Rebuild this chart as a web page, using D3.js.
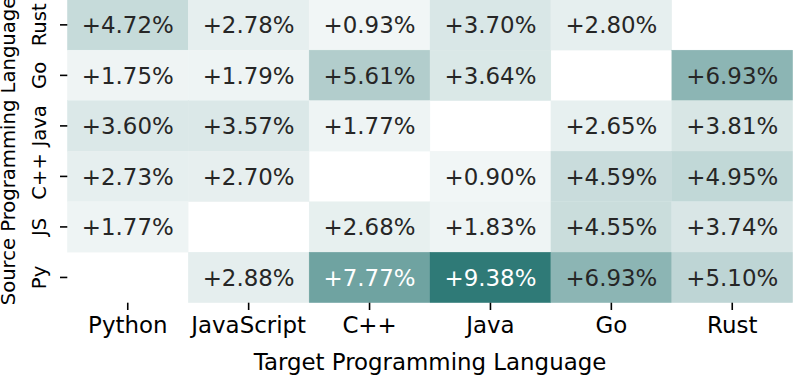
<!DOCTYPE html>
<html>
<head>
<meta charset="utf-8">
<script src="https://cdn.jsdelivr.net/npm/d3@7"></script>
<style>
  body { margin: 0; background: #fff; }
  text { font-family: "DejaVu Sans", sans-serif; }
</style>
</head>
<body>
<script>
//categories
var sources = ["Rust", "Go", "Java", "C++", "JS", "Py"];
var targets = ["Python", "JavaScript", "C++", "Java", "Go", "Rust"];

//one array per source row (null = same language)
var rustRow = [4.72, 2.78, 0.93, 3.70, 2.80, null];
var goRow   = [1.75, 1.79, 5.61, 3.64, null, 6.93];
var javaRow = [3.60, 3.57, 1.77, null, 2.65, 3.81];
var cppRow  = [2.73, 2.70, null, 0.90, 4.59, 4.95];
var jsRow   = [1.77, null, 2.68, 1.83, 4.55, 3.74];
var pyRow   = [null, 2.88, 7.77, 9.38, 6.93, 5.10];

var rows = [rustRow, goRow, javaRow, cppRow, jsRow, pyRow];

var xTitle = "Target Programming Language";
var yTitle = "Source Programming Language";

window.onload = drawHeatmap();

function drawHeatmap(){

    var width = 793,
        height = 382,
        fontSize = 22.9,
        yFontSize = 19.6;

    var svg = d3.select("body")
        .append("svg")
        .attr("width", width)
        .attr("height", height);

    var x = d3.scaleBand()
        .domain(targets)
        .range([67.3, 792.7]);

    var y = d3.scaleBand()
        .domain(sources)
        .range([-0.4, 302.7]);

    //flatten to cells
    var cells = [];
    rows.forEach(function(r, i){
        r.forEach(function(v, j){
            if (v !== null) cells.push({src: sources[i], tgt: targets[j], value: v});
        });
    });

    var allVals = cells.map(function(d){ return d.value; });

    //light-to-teal ramp, eased so the top end darkens faster
    var ramp = d3.interpolateRgb("#f1f6f6", "#2f7a77");
    var color = d3.scaleSequential(function(t){ return ramp(Math.pow(t, 1.9)); })
        .domain([d3.min(allVals), d3.max(allVals)]);

    //seaborn style luminance for annotation colour
    function luminance(c){
        var rgb = d3.rgb(c);
        var ch = [rgb.r, rgb.g, rgb.b].map(function(v){
            v = v / 255;
            return v <= 0.03928 ? v / 12.92 : Math.pow((v + 0.055) / 1.055, 2.4);
        });
        return 0.2126 * ch[0] + 0.7152 * ch[1] + 0.0722 * ch[2];
    }

    svg.selectAll(".cell")
        .data(cells)
        .enter()
        .append("rect")
        .attr("class", "cell")
        .attr("x", function(d){ return x(d.tgt); })
        .attr("y", function(d){ return y(d.src); })
        .attr("width", x.bandwidth())
        .attr("height", y.bandwidth())
        .attr("fill", function(d){ return color(d.value); })
        .attr("stroke", function(d){ return color(d.value); })
        .attr("stroke-width", 0.3);

    svg.selectAll(".annot")
        .data(cells)
        .enter()
        .append("text")
        .attr("class", "annot")
        .attr("x", function(d){ return x(d.tgt) + x.bandwidth() / 2; })
        .attr("y", function(d){ return y(d.src) + y.bandwidth() / 2; })
        .attr("text-anchor", "middle")
        .attr("dy", "0.36em")
        .attr("font-size", fontSize)
        .attr("fill", function(d){ return luminance(color(d.value)) > 0.408 ? "#262626" : "#ffffff"; })
        .text(function(d){ return "+" + d.value.toFixed(2) + "%"; });

    //x axis
    var xAxis = svg.append("g")
        .attr("transform", "translate(0," + 302.7 + ")")
        .call(d3.axisBottom(x).tickSize(7.3).tickPadding(7));
    xAxis.select(".domain").remove();
    xAxis.selectAll("line").attr("stroke", "#000").attr("stroke-width", 1.6);
    xAxis.selectAll("text")
        .attr("font-size", fontSize)
        .attr("font-family", "DejaVu Sans")
        .attr("fill", "#000");

    //y axis, labels rotated
    var yAxis = svg.append("g")
        .attr("transform", "translate(" + 67.3 + ",0)")
        .call(d3.axisLeft(y).tickSize(7.3).tickPadding(0));
    yAxis.select(".domain").remove();
    yAxis.selectAll("line").attr("stroke", "#000").attr("stroke-width", 1.6);
    yAxis.selectAll("text")
        .attr("font-size", yFontSize)
        .attr("font-family", "DejaVu Sans")
        .attr("fill", "#000")
        .attr("x", null)
        .attr("dy", null)
        .attr("text-anchor", "middle")
        .attr("transform", "translate(-21.5,0) rotate(-90)");

    //axis titles
    svg.append("text")
        .attr("x", (67.3 + 792.7) / 2)
        .attr("y", 369.5)
        .attr("text-anchor", "middle")
        .attr("font-size", fontSize)
        .attr("fill", "#000")
        .text(xTitle);

    svg.append("text")
        .attr("transform", "translate(15,151) rotate(-90)")
        .attr("text-anchor", "middle")
        .attr("font-size", yFontSize)
        .attr("fill", "#000")
        .text(yTitle);
};
</script>
</body>
</html>
